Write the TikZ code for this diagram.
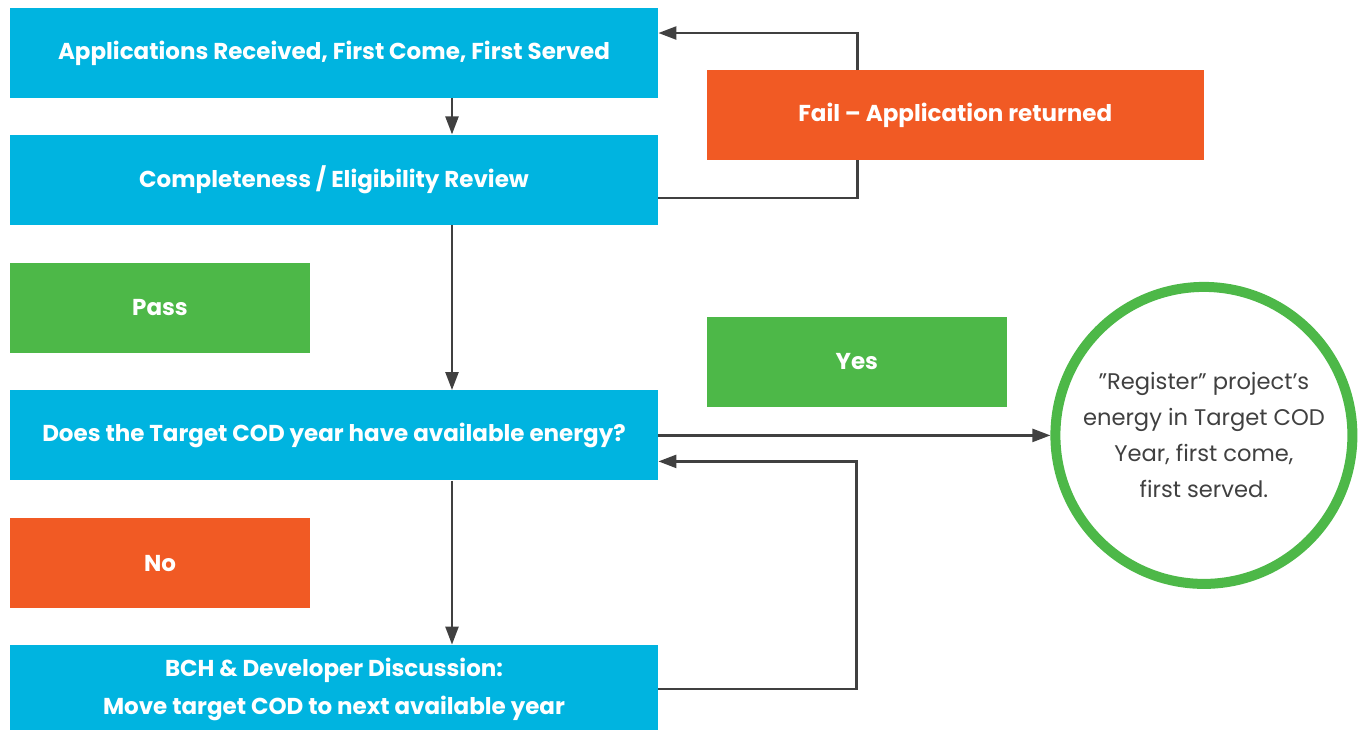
\documentclass[tikz,border=0pt]{standalone}
\usepackage{fontspec}
\setmainfont{Poppins}
\usepackage{xcolor}
\usepackage{tikz}
\usetikzlibrary{positioning, arrows.meta}

\definecolor{bchblue}{HTML}{00B4E0}
\definecolor{passgreen}{HTML}{4DB848}
\definecolor{failorange}{HTML}{F15A24}
\definecolor{linegray}{HTML}{404040}

\begin{document}
\begin{tikzpicture}[box/.style={rectangle, fill=bchblue, text=white, font=\bfseries\fontsize{11.5}{19}\selectfont, minimum width=324pt, minimum height=45pt, inner sep=0pt, align=center},
    tag/.style={rectangle, text=white, font=\bfseries\fontsize{11.5}{19}\selectfont, minimum width=150pt, minimum height=45pt, inner sep=0pt},
    line/.style={draw=linegray, line width=1.2pt},
    flow/.style={line, -{Triangle[length=9pt, width=6.5pt]}},
    node distance=18pt]

      \useasboundingbox (0,0) rectangle (680.5pt,-364.5pt);

      % Linke Spalte
      \node[box] (app) at (167pt,-26.5pt) {Applications Received, First Come, First Served};
      \node[box, below=of app] (review) {Completeness / Eligibility Review};
      \node[tag, fill=passgreen, below right=18.5pt and 0pt of review.south west] (pass) {Pass};
      \node[box, below right=18.5pt and 0pt of pass.south west] (question) {Does the Target COD year have available energy?};
      \node[tag, fill=failorange, below right=18.5pt and 0pt of question.south west] (no) {No};
      \node[box, minimum height=44pt, below right=18pt and 0pt of no.south west] (bch) {BCH \& Developer Discussion:\\Move target COD to next available year};

      % Rechte Seite
      \node[tag, fill=failorange, minimum width=248.5pt, below right=31pt and 24pt of app.north east] (fail) {Fail – Application returned};
      \node[tag, fill=passgreen, below right=78pt and 0pt of fail.south west] (yes) {Yes};
      \node[circle, draw=passgreen, line width=5pt, minimum size=148.5pt, inner sep=0pt, align=center, text=linegray, font=\fontsize{11.3}{18}\selectfont, right=196pt of question] (register) {”Register” project’s\\energy in Target COD\\Year, first come,\\first served.};

      % Pfeile nach unten
      \draw[flow] ([xshift=59pt]app.south) -- ([xshift=59pt]review.north);
      \draw[flow] ([xshift=59pt]review.south) -- ([xshift=59pt]question.north);
      \draw[flow] ([xshift=59pt]question.south) -- ([xshift=59pt]bch.north);

      % Pfeil zum Kreis
      \draw[flow] (question.east) -- (register.west);

      % Schleife ueber Fail
      \draw[line] ([yshift=-9pt]review.east) -| ([xshift=-49pt]fail.south);
      \draw[flow] ([xshift=-49pt]fail.north) |- ([yshift=10pt]app.east);

      % Schleife von unten
      \coordinate[right=99pt of bch.east] (bchturn);
      \draw[flow] (bch.east) -- (bchturn) |- ([yshift=-13pt]question.east);

\end{tikzpicture}
\end{document}
